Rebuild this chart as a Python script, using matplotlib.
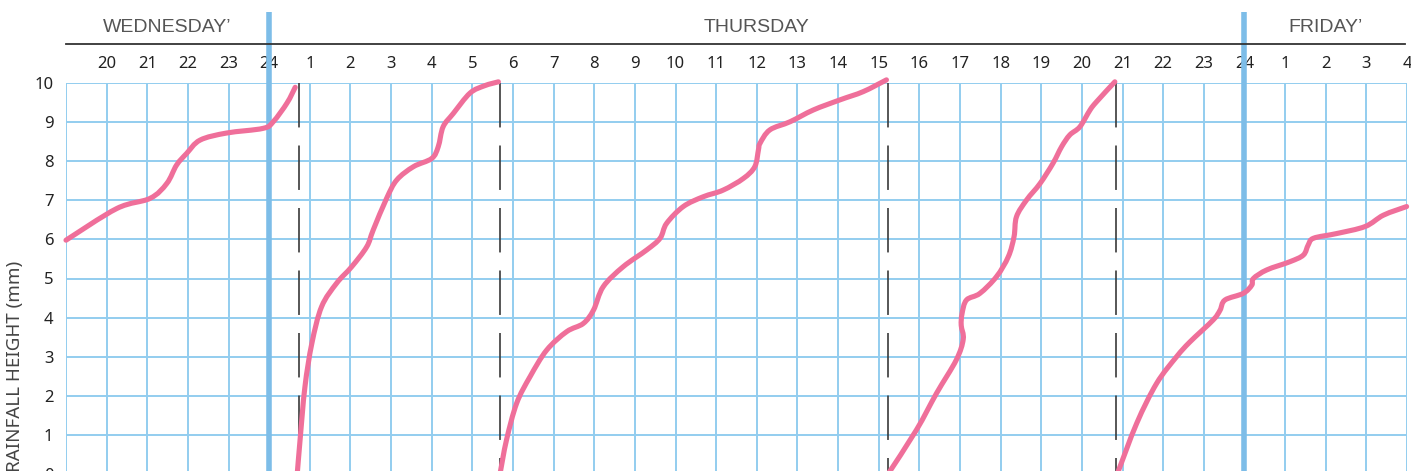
import matplotlib
matplotlib.use("Agg")
import matplotlib.pyplot as plt
from matplotlib.path import Path
from matplotlib.patches import PathPatch

plt.rcParams['lines.scale_dashes'] = False

# time axis: hours counted from Wednesday 00:00
hour_ticks = list(range(20, 53))
hour_labels = [str(h) for h in range(20, 25)] + [str(h) for h in range(1, 25)] + [str(h) for h in range(1, 5)]

days = ["WEDNESDAY\u2019", "THURSDAY", "FRIDAY\u2019"]
day_centres = [21.5, 36, 50]
midnights = [24, 48]

# instants where the recorder was reset (dashed lines)
reset_times = [24.74, 29.68, 39.22, 44.83]

# pen trace, one piece per sheet turn
seg1_t = [19.0, 20.25, 21.07, 21.48, 21.72, 21.97, 22.3, 22.95, 23.85, 24.1, 24.44, 24.64]
seg1_mm = [5.98, 6.79, 7.05, 7.43, 7.9, 8.2, 8.54, 8.72, 8.84, 9.01, 9.49, 9.89]

seg2_t = [24.69, 24.76, 24.88, 25.05, 25.29, 25.66, 26.03, 26.4, 26.56, 26.89, 27.14, 27.55,
          28.0, 28.16, 28.28, 28.53, 28.94, 29.3, 29.64]
seg2_mm = [0.0, 0.87, 2.23, 3.34, 4.28, 4.88, 5.3, 5.81, 6.24, 7.05, 7.52, 7.86,
           8.07, 8.37, 8.88, 9.22, 9.74, 9.93, 10.03]

seg3_t = [29.68, 29.84, 30.09, 30.42, 30.83, 31.32, 31.73, 31.98, 32.22, 32.71, 33.29, 33.62,
          33.78, 34.19, 34.68, 35.17, 35.67, 35.95, 36.04, 36.08, 36.32, 36.82, 37.39, 38.05,
          38.62, 39.19]
seg3_mm = [0.0, 0.87, 1.81, 2.49, 3.17, 3.64, 3.85, 4.19, 4.79, 5.3, 5.73, 6.03,
           6.41, 6.84, 7.09, 7.26, 7.56, 7.86, 8.29, 8.46, 8.8, 9.01, 9.31, 9.57,
           9.78, 10.08]

seg4_t = [39.23, 39.93, 40.42, 40.91, 41.08, 41.03, 41.05, 41.16, 41.49, 41.9, 42.19, 42.33,
          42.39, 42.64, 42.97, 43.29, 43.5, 43.7, 43.95, 44.2, 44.36, 44.81]
seg4_mm = [0.0, 1.13, 2.06, 2.92, 3.45, 3.8, 4.1, 4.45, 4.62, 5.05, 5.56, 6.07,
           6.58, 7.01, 7.43, 7.95, 8.37, 8.67, 8.88, 9.31, 9.52, 10.03]

seg5_t = [44.87, 45.35, 45.84, 46.33, 46.66, 47.23, 47.4, 47.52, 47.97, 48.18, 48.22, 48.55,
          49.12, 49.45, 49.57, 49.7, 50.27, 50.97, 51.42, 51.99]
seg5_mm = [0.0, 1.3, 2.32, 3.0, 3.38, 3.94, 4.19, 4.45, 4.62, 4.83, 5.0, 5.22,
           5.43, 5.6, 5.86, 6.03, 6.15, 6.33, 6.62, 6.84]

segments = [(seg1_t, seg1_mm), (seg2_t, seg2_mm), (seg3_t, seg3_mm),
            (seg4_t, seg4_mm), (seg5_t, seg5_mm)]

grid_col = "#93cdef"
thick_col = "#7dbde8"
pen_col = "#ef6f9a"


def smooth_path(xs, ys):
    # bezier path through the read points (catmull-rom handles)
    pts = list(zip(xs, ys))
    verts = [pts[0]]
    codes = [Path.MOVETO]
    n = len(pts)
    for i in range(n - 1):
        p0 = pts[i - 1] if i > 0 else pts[i]
        p1, p2 = pts[i], pts[i + 1]
        p3 = pts[i + 2] if i + 2 < n else pts[i + 1]
        c1 = (p1[0] + (p2[0] - p0[0]) / 6, p1[1] + (p2[1] - p0[1]) / 6)
        c2 = (p2[0] - (p3[0] - p1[0]) / 6, p2[1] - (p3[1] - p1[1]) / 6)
        verts += [c1, c2, p2]
        codes += [Path.CURVE4] * 3
    return Path(verts, codes)


fig = plt.figure(figsize=(14.11, 4.71), dpi=100)
ax = fig.add_axes([66 / 1411, -3 / 471, 1341 / 1411, 391 / 471])
ax.set_xlim(19, 52)
ax.set_ylim(0, 10)

for h in range(19, 53):
    ax.axvline(h, color=grid_col, lw=1.4, zorder=1)
for v in range(0, 11):
    ax.axhline(v, color=grid_col, lw=1.4, zorder=1)
for s in ax.spines.values():
    s.set_visible(False)

for m in midnights:
    ax.plot([m, m], [0, 11.82], color=thick_col, lw=4, zorder=2,
            clip_on=False, solid_capstyle="butt")

for r in reset_times:
    ax.plot([r, r], [10, 0], color="#3a3a3a", lw=1.2, dashes=(32, 13), zorder=3)

for t, mm in segments:
    ax.add_patch(PathPatch(smooth_path(t, mm), facecolor="none", edgecolor=pen_col,
                           lw=3.7, zorder=4, joinstyle="round", capstyle="round",
                           clip_on=False))

# header: day names above a rule
ax.plot([19, 51.95], [11.0, 11.0], color="#333333", lw=1.3, clip_on=False, zorder=3)
for name, c in zip(days, day_centres):
    ax.text(c, 11.41, name, ha="center", va="center", fontsize=14,
            family="Liberation Sans", color="#555555")

ax.xaxis.tick_top()
ax.set_xticks(hour_ticks)
ax.set_xticklabels(hour_labels, fontsize=12, family="Noto Sans", color="#222222")
ax.tick_params(axis="x", length=0, pad=8)
ax.set_yticks(range(0, 11))
ax.set_yticklabels([str(v) for v in range(0, 11)], fontsize=12,
                   family="Noto Sans", color="#222222")
ax.tick_params(axis="y", length=0, pad=9)

fig.text(15 / 1411, 1 - 366 / 471, "RAINFALL HEIGHT (mm)", rotation=90,
         ha="center", va="center", fontsize=13.5, family="Noto Sans", color="#444444")

fig.savefig("out.png", dpi=100)
